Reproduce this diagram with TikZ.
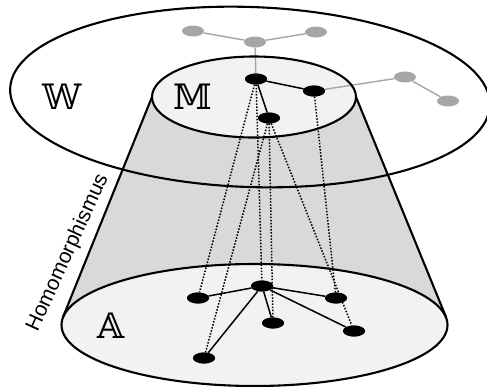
\documentclass[tikz,border=0pt]{standalone}
\usepackage{fontspec}
\setmainfont{Liberation Sans}
\newfontfamily\bbfont{DejaVu Serif}
\usetikzlibrary{shapes.geometric}
\definecolor{conegray}{HTML}{D9D9D9}
\definecolor{facegray}{HTML}{F2F2F2}
\definecolor{netgray}{HTML}{A6A6A6}
\begin{document}
\begin{tikzpicture}[x=1pt,y=-1pt,
  outline/.style={line width=2.1pt},
  gnode/.style={ellipse, fill=netgray, minimum width=22pt, minimum height=11pt, inner sep=0pt},
  bnode/.style={ellipse, fill=black, minimum width=22pt, minimum height=11pt, inner sep=0pt},
  gedge/.style={draw=netgray, line width=1.4pt},
  bedge/.style={draw=black, line width=1.5pt},
  mapline/.style={draw=black, line width=1.5pt, dash pattern=on 1.5pt off 1.6pt},
  setlabel/.style={font=\bbfont\fontsize{35}{35}\selectfont, inner sep=0pt}
]
\useasboundingbox (0,0) rectangle (487,386);
% cone body
\fill[conegray] (152,97) -- (63,317) -- (254.5,325) -- (446,317) -- (356,97) -- (254,97) -- cycle;
% bottom face A
\filldraw[fill=facegray, outline] (254.5,325) ellipse [x radius=193, y radius=61];
% top face M
\fill[facegray] (254,97) ellipse [x radius=102, y radius=40.5];
% cone sides
\draw[outline] (152,97) -- (63,317);
\draw[outline] (356,97) -- (446,317);
% nodes
\node[gnode] (g1) at (193,31) {};
\node[gnode] (g2) at (255,42) {};
\node[gnode] (g3) at (316,32) {};
\node[gnode] (g4) at (405,77) {};
\node[gnode] (g5) at (448,101) {};
\node[bnode] (m1) at (256,79) {};
\node[bnode] (m2) at (314,91) {};
\node[bnode] (m3) at (269,118) {};
\node[bnode] (a1) at (198,298) {};
\node[bnode] (a2) at (262,286) {};
\node[bnode] (a3) at (336,298) {};
\node[bnode] (a4) at (273,323) {};
\node[bnode] (a5) at (354,331) {};
\node[bnode] (a6) at (204,358) {};
% grey edges of W
\path[gedge] (g1) -- (g2) -- (g3);
\path[gedge] (g2) -- (m1);
\path[gedge] (m2) -- (g4) -- (g5);
% outline of M and W
\draw[outline] (254,97) ellipse [x radius=102, y radius=40.5];
\draw[outline, rotate around={-2:(250,97)}] (250,97) ellipse [x radius=240, y radius=90];
% dotted homomorphism lines
\path[mapline] (m1) -- (a1);
\path[mapline] (m1) -- (a2);
\path[mapline] (m2) -- (a3);
\path[mapline] (m3) -- (a6);
\path[mapline] (m3) -- (a4);
\path[mapline] (m3) -- (a5);
% black edges
\path[bedge] (m1) -- (m2);
\path[bedge] (m1) -- (m3);
\path[bedge] (a2) -- (a1);
\path[bedge] (a2) -- (a3);
\path[bedge] (a2) -- (a4);
\path[bedge] (a2) -- (a5);
\path[bedge] (a2) -- (a6);
% redraw nodes on top
\foreach \n in {m1,m2,m3,a1,a2,a3,a4,a5,a6}{\fill[black] (\n.center) ellipse [x radius=11, y radius=5.5];}
% labels
\node[setlabel] (lw) at (62,97) {𝕎};
\node[setlabel] (lm) at (193,97) {𝕄};
\node[setlabel] (la) at (111,326) {𝔸};
\node[font=\fontsize{21}{21}\selectfont, rotate=65.5, anchor=base, inner sep=0pt] (hom) at (73,255) {Homomorphismus};
\end{tikzpicture}
\end{document}
